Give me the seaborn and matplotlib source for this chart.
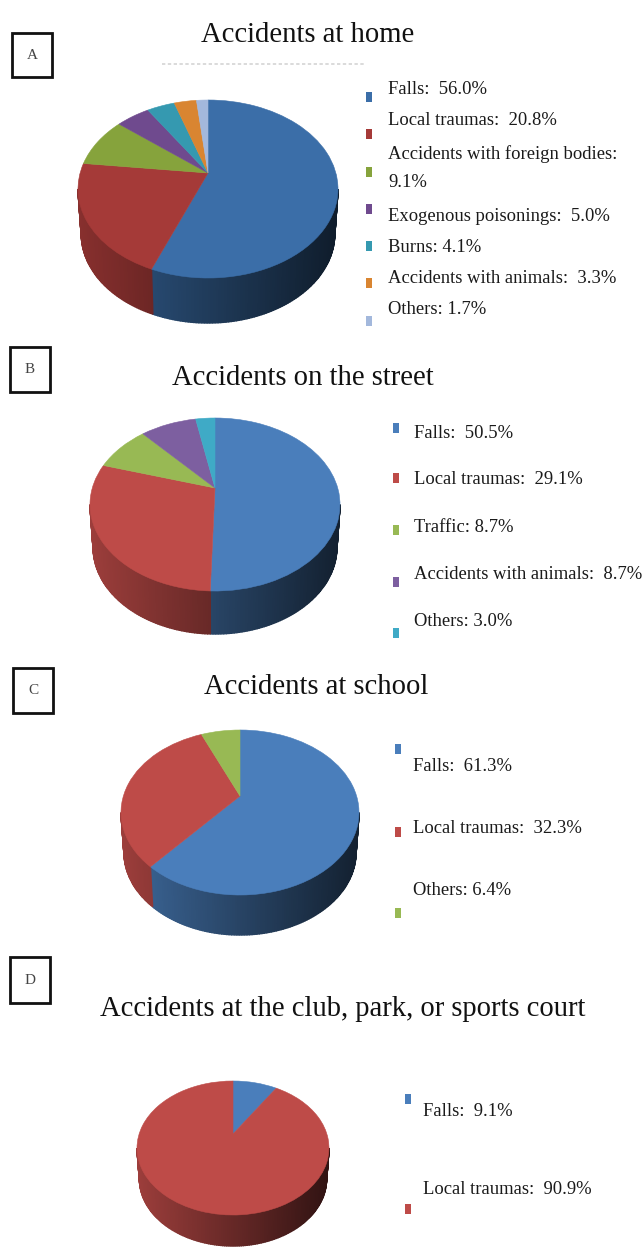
import matplotlib
matplotlib.use("Agg")
import matplotlib.pyplot as plt
from matplotlib.patches import PathPatch, Rectangle
from matplotlib.path import Path
from matplotlib.colors import to_rgb
import numpy as np
import seaborn as sns

W, H = 644, 1249

# data
titles = ["Accidents at home", "Accidents on the street", "Accidents at school",
          "Accidents at the club, park, or sports court"]
panel_letters = ["A", "B", "C", "D"]

values_a = [56.0, 20.8, 9.1, 5.0, 4.1, 3.3, 1.7]
values_b = [50.5, 29.1, 8.7, 8.7, 3.0]
values_c = [61.3, 32.3, 6.4]
values_d = [9.1, 90.9]

labels_a = ["Falls:  56.0%", "Local traumas:  20.8%", "Accidents with foreign bodies:\n9.1%",
            "Exogenous poisonings:  5.0%", "Burns: 4.1%", "Accidents with animals:  3.3%", "Others: 1.7%"]
labels_b = ["Falls:  50.5%", "Local traumas:  29.1%", "Traffic: 8.7%",
            "Accidents with animals:  8.7%", "Others: 3.0%"]
labels_c = ["Falls:  61.3%", "Local traumas:  32.3%", "Others: 6.4%"]
labels_d = ["Falls:  9.1%", "Local traumas:  90.9%"]

colors_a = ["#3B6EA8", "#A53A38", "#86A33C", "#6F4A8E", "#3599B0", "#D98531", "#A3B8DC"]
colors_rest = ["#4A7EBB", "#BE4B48", "#98B954", "#7D5FA0", "#3FAAC6"]

# layout in pixels of the picture
panels = [
    dict(values=values_a, labels=labels_a, colors=colors_a, cx=208, rx=130, top=100, front=278, depth=45, apex=173,
         title_xy=(308, 35), box=(12, 33, 52, 77), text_x=388,
         text_y=[89, 120, 168, 216, 247, 278, 309], mark_x=369, mark_y=[97, 134, 172, 209, 246, 283, 321]),
    dict(values=values_b, labels=labels_b, colors=colors_rest, cx=215, rx=125, top=418, front=591, depth=43, apex=488,
         title_xy=(303, 378), box=(10, 347, 50, 392), text_x=414,
         text_y=[433, 479, 527, 574, 621], mark_x=396, mark_y=[428, 478, 530, 582, 633]),
    dict(values=values_c, labels=labels_c, colors=colors_rest, cx=240, rx=119, top=730, front=895, depth=40, apex=796,
         title_xy=(316, 687), box=(13, 668, 53, 713), text_x=413,
         text_y=[766, 828, 890], mark_x=398, mark_y=[749, 832, 913]),
    dict(values=values_d, labels=labels_d, colors=colors_rest, cx=233, rx=96, top=1081, front=1215, depth=31, apex=1134,
         title_xy=(343, 1009), box=(10, 957, 50, 1003), text_x=423,
         text_y=[1111, 1189], mark_x=408, mark_y=[1099, 1209]),
]

sns.set_theme(style="white")
plt.rcParams['font.family'] = ['Liberation Serif', 'DejaVu Serif']


def tilt(x, y, a):
    # projective map that keeps the rim on the unit circle and moves the centre up to (0, a)
    d = 1 + a * y
    return x * np.sqrt(1 - a * a) / d, (y + a) / d


def draw_side(ax, values, palette, depth, a):
    # front wall of the disc, cut in thin strips so it can darken to the right
    edges = np.cumsum([0] + list(values)) / sum(values) * 360
    limit = np.degrees(np.arccos(-a))
    for i, color in enumerate(palette):
        lo, hi = max(edges[i], limit), min(edges[i + 1], 360 - limit)
        if hi <= lo:
            continue
        ang = np.radians(np.linspace(lo, hi, max(int(hi - lo), 2)))
        x, y = tilt(np.sin(ang), np.cos(ang), a)
        base = np.array(to_rgb(color))
        for k in range(len(ang) - 1):
            shade = 0.82 - 0.56 * (x[k] + 1) / 2
            ax.fill([x[k], x[k + 1], x[k + 1] * 0.975, x[k] * 0.975],
                    [y[k], y[k + 1], y[k + 1] - depth, y[k] - depth],
                    color=tuple(base * shade), lw=1.0, clip_on=False, zorder=1)


def draw_pie(fig, p):
    ry = (p["front"] - p["top"]) / 2
    cy = p["top"] + ry
    a = (cy - p["apex"]) / ry
    ax = fig.add_axes([(p["cx"] - p["rx"]) / W, 1 - (cy + ry) / H, 2 * p["rx"] / W, 2 * ry / H])
    palette = sns.color_palette(p["colors"], n_colors=len(p["values"]))
    wedges, _ = ax.pie(p["values"], colors=palette, startangle=90, counterclock=False,
                       wedgeprops={"linewidth": 0})
    ax.set_aspect("auto")
    ax.set_xlim(-1, 1)
    ax.set_ylim(-1, 1)
    ax.axis("off")
    draw_side(ax, p["values"], palette, p["depth"] / ry, a)

    for w in wedges:
        path = w.get_path()
        vx, vy = tilt(path.vertices[:, 0], path.vertices[:, 1], a)
        ax.add_patch(PathPatch(Path(np.column_stack([vx, vy]), path.codes), facecolor=w.get_facecolor(),
                               edgecolor=w.get_facecolor(), lw=0.4, clip_on=False, zorder=2))
        w.remove()


fig = plt.figure(figsize=(W / 100, H / 100), dpi=100, facecolor="white")

for p in panels:
    draw_pie(fig, p)

# overlay in pixel coordinates for titles, boxes and legends
over = fig.add_axes([0, 0, 1, 1], zorder=5)
over.set_xlim(0, W)
over.set_ylim(H, 0)
over.axis("off")

for i, p in enumerate(panels):
    over.text(p["title_xy"][0], p["title_xy"][1], titles[i], fontsize=20.6, color="#111111",
              ha="center", va="center")
    x0, y0, x1, y1 = p["box"]
    over.add_patch(Rectangle((x0, y0), x1 - x0, y1 - y0, fill=False, ec="#111111", lw=2.0))
    over.text((x0 + x1) / 2, (y0 + y1) / 2, panel_letters[i], fontsize=11, color="#444444",
              ha="center", va="center")
    for label, ty in zip(p["labels"], p["text_y"]):
        over.text(p["text_x"], ty, label, fontsize=13.4, color="#1a1a1a", ha="left", va="center",
                  linespacing=1.9)
    for color, my in zip(p["colors"], p["mark_y"]):
        over.add_patch(Rectangle((p["mark_x"] - 3, my - 5), 6, 10, fc=color, ec="none"))

# faint dotted remnant under the first title
over.plot([162, 365], [64, 64], color="#d4d4d4", lw=1.2, ls=(0, (2, 1.5)))

fig.savefig("out.png", dpi=100)
